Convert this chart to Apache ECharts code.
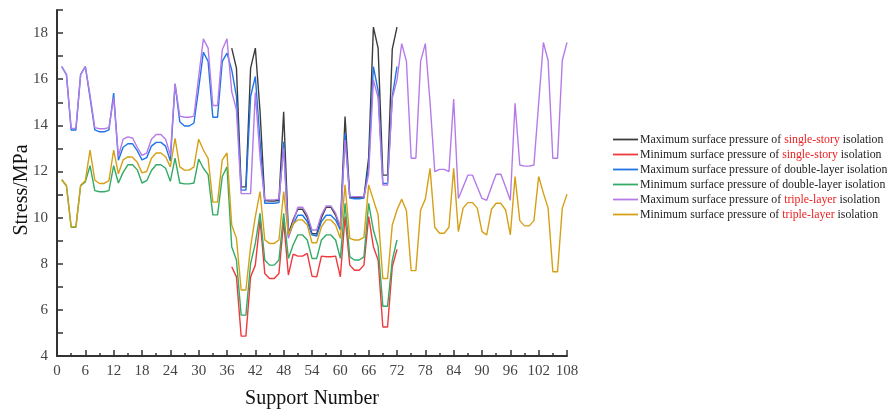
<!DOCTYPE html>
<html>
<head>
<meta charset="utf-8">
<script src="https://cdn.jsdelivr.net/npm/echarts@6/dist/echarts.min.js"></script>
<style>
  html, body { margin: 0; padding: 0; background: #fff; }
  #chart { width: 890px; height: 410px; }
</style>
</head>
<body>
<div id="chart"></div>
<script>
// Support numbers at which each group of series starts
const singleStart = 37;
const doubleStart = 1;
const tripleStart = 1;

// Single-story isolation, supports 37-72 (MPa)
const singleMax = [17.35, 16.48, 11.33, 11.33, 16.48, 17.35, 14.6, 10.74, 10.72, 10.72, 10.74, 14.59,
  9.3, 9.9, 10.36, 10.36, 10.0, 9.3, 9.3, 10.0, 10.45, 10.45, 10.1, 9.55,
  14.38, 10.88, 10.86, 10.86, 10.88, 12.6, 18.26, 17.35, 11.84, 11.84, 17.3, 18.26];
const singleMin = [7.87, 7.43, 4.86, 4.86, 7.43, 7.94, 9.9, 7.58, 7.36, 7.36, 7.58, 9.83,
  7.51, 8.42, 8.33, 8.33, 8.45, 7.46, 7.43, 8.33, 8.3, 8.3, 8.33, 7.43,
  10.04, 7.94, 7.72, 7.72, 7.94, 10.04, 8.74, 8.16, 5.26, 5.26, 7.87, 8.62];

// Double-layer isolation, supports 1-72 (MPa)
const doubleMax = [16.55, 16.2, 13.8, 13.8, 16.2, 16.55, 15.2, 13.8, 13.72, 13.72, 13.8, 15.4,
  12.49, 13.05, 13.2, 13.2, 12.9, 12.5, 12.6, 13.1, 13.26, 13.26, 13.1, 12.45,
  15.8, 14.16, 13.97, 13.97, 14.1, 15.6, 17.17, 16.77, 14.35, 14.35, 16.77, 17.13,
  16.4, 15.25, 11.19, 11.19, 15.25, 16.12, 13.3, 10.62, 10.62, 10.62, 10.65, 13.29,
  9.17, 9.7, 10.1, 10.1, 9.83, 9.25, 9.2, 9.83, 10.1, 10.1, 9.9, 9.46,
  13.65, 10.85, 10.82, 10.82, 10.85, 12.2, 16.55, 15.5, 11.48, 11.48, 15.25, 16.55];
const doubleMin = [11.64, 11.38, 9.58, 9.58, 11.38, 11.55, 12.25, 11.17, 11.12, 11.12, 11.17, 12.25,
  11.5, 11.96, 12.29, 12.29, 12.07, 11.5, 11.6, 12.04, 12.29, 12.29, 12.14, 11.57,
  12.58, 11.5, 11.46, 11.46, 11.5, 12.54, 12.14, 11.86, 10.12, 10.12, 11.78, 12.2,
  8.74, 8.16, 5.77, 5.77, 8.01, 8.88, 10.19, 8.16, 7.94, 7.94, 8.16, 10.19,
  8.23, 8.81, 9.25, 9.25, 9.03, 8.23, 8.23, 9.03, 9.25, 9.25, 9.03, 8.23,
  10.62, 8.3, 8.16, 8.16, 8.3, 10.62, 9.46, 8.74, 6.16, 6.16, 8.16, 9.03];

// Triple-layer isolation, supports 1-108 (MPa)
const tripleMax = [16.55, 16.2, 13.87, 13.87, 16.2, 16.55, 15.3, 13.9, 13.85, 13.85, 13.9, 15.2,
  12.65, 13.4, 13.5, 13.45, 13.05, 12.7, 12.8, 13.4, 13.6, 13.6, 13.4, 12.7,
  15.8, 14.4, 14.35, 14.35, 14.4, 16.1, 17.75, 17.35, 14.86, 14.86, 17.28, 17.75,
  15.46, 14.67, 11.04, 11.04, 11.04, 15.42, 12.6, 10.77, 10.77, 10.77, 10.8, 13.0,
  9.1, 9.8, 10.45, 10.45, 10.12, 9.46, 9.46, 10.12, 10.51, 10.51, 10.19, 9.6,
  13.36, 10.91, 10.91, 10.91, 10.9, 11.9, 15.97, 15.2, 11.41, 11.41, 15.17, 15.97,
  17.54, 16.77, 12.57, 12.57, 16.77, 17.54, 15.0, 11.99, 12.09, 12.09, 11.99, 15.14,
  10.83, 11.33, 11.84, 11.84, 11.33, 10.83, 10.75, 11.33, 11.88, 11.88, 11.33, 10.75,
  14.96, 12.28, 12.23, 12.23, 12.28, 14.96, 17.59, 16.81, 12.57, 12.57, 16.81, 17.59];
const tripleMin = [11.64, 11.38, 9.6, 9.6, 11.4, 11.6, 12.93, 11.62, 11.48, 11.48, 11.6, 12.93,
  11.9, 12.5, 12.64, 12.62, 12.4, 11.94, 12.0, 12.57, 12.8, 12.8, 12.64, 12.2,
  13.43, 12.2, 12.06, 12.06, 12.2, 13.4, 12.93, 12.57, 10.67, 10.67, 12.5, 12.8,
  9.68, 9.1, 6.86, 6.86, 8.74, 10.04, 11.13, 9.03, 8.88, 8.88, 9.03, 11.13,
  9.25, 9.72, 9.9, 9.9, 9.68, 8.91, 8.91, 9.6, 9.9, 9.9, 9.68, 9.1,
  11.42, 9.1, 9.03, 9.03, 9.14, 11.42, 10.77, 10.12, 7.36, 7.36, 9.68, 10.33,
  10.8, 10.3, 7.7, 7.7, 10.33, 10.8, 12.14, 9.58, 9.32, 9.32, 9.58, 12.14,
  9.39, 10.41, 10.65, 10.65, 10.41, 9.39, 9.25, 10.36, 10.62, 10.62, 10.33, 9.25,
  11.78, 9.87, 9.64, 9.64, 9.87, 11.78, 11.06, 10.41, 7.65, 7.65, 10.41, 11.01];

// Legend wording; the isolation scheme inside each name is shown in red for these
const seriesNames = [
  'Maximum surface pressure of single-story isolation',
  'Minimum surface pressure of single-story isolation',
  'Maximum surface pressure of double-layer isolation',
  'Minimum surface pressure of double-layer isolation',
  'Maximum surface pressure of triple-layer isolation',
  'Minimum surface pressure of triple-layer isolation'
];
const highlighted = ['single-story', 'triple-layer'];

const colors = ['#3c3c3c', '#f0393c', '#1f74e6', '#33aa66', '#b57be8', '#d6a016'];
const FONT = '"Liberation Serif", "Times New Roman", serif';

function pairs(values, start) {
  return values.map((v, i) => [start + i, v]);
}

const seriesData = [
  pairs(singleMax, singleStart),
  pairs(singleMin, singleStart),
  pairs(doubleMax, doubleStart),
  pairs(doubleMin, doubleStart),
  pairs(tripleMax, tripleStart),
  pairs(tripleMin, tripleStart)
];

const chart = echarts.init(document.getElementById('chart'), null, { renderer: 'canvas' });

chart.setOption({
  animation: false,
  backgroundColor: '#ffffff',
  color: colors,
  grid: { left: 57, right: 323, top: 10, bottom: 54, containLabel: false, outerBoundsMode: 'none' },
  legend: {
    orient: 'vertical',
    left: 608,
    top: 128,
    itemWidth: 25,
    itemHeight: 10,
    itemGap: 2,
    icon: 'path://M0,4 L28,4 L28,6 L0,6 Z',
    data: seriesNames,
    textStyle: {
      fontFamily: FONT,
      fontSize: 11.8,
      color: '#222',
      lineHeight: 13,
      padding: [0, 0, 0, -3],
      rich: {
        a: { fontFamily: FONT, fontSize: 11.8, color: '#222', lineHeight: 13 },
        r: { fontFamily: FONT, fontSize: 11.8, color: '#ee2222', lineHeight: 13 }
      }
    },
    formatter: function (name) {
      for (const h of highlighted) {
        const k = name.indexOf(h);
        if (k >= 0) {
          return '{a|' + name.slice(0, k) + '}{r|' + h + '}{a|' + name.slice(k + h.length) + '}';
        }
      }
      return '{a|' + name + '}';
    }
  },
  xAxis: {
    type: 'value',
    min: 0,
    max: 108,
    interval: 6,
    name: 'Support Number',
    nameLocation: 'middle',
    nameGap: 33,
    nameMoveOverlap: false,
    nameTextStyle: { fontFamily: FONT, fontSize: 20, color: '#111' },
    axisLine: { show: true, onZero: false, lineStyle: { color: '#333', width: 2 } },
    axisTick: { show: true, inside: true, length: 6, lineStyle: { color: '#333', width: 1.5 } },
    minorTick: { show: true, splitNumber: 2, length: 3, lineStyle: { color: '#333', width: 1.5 } },
    axisLabel: { fontFamily: FONT, fontSize: 15, color: '#444', margin: 8 },
    splitLine: { show: false }
  },
  yAxis: {
    type: 'value',
    min: 4,
    max: 19,
    interval: 1,
    name: 'Stress/MPa',
    nameLocation: 'middle',
    nameGap: 25,
    nameMoveOverlap: false,
    nameRotate: 90,
    nameTextStyle: { fontFamily: FONT, fontSize: 20, color: '#111', padding: [0, 14, 0, 0] },
    axisLine: { show: true, onZero: false, lineStyle: { color: '#333', width: 2 } },
    axisTick: { show: true, inside: true, length: 6, lineStyle: { color: '#333', width: 1.5 } },
    axisLabel: {
      fontFamily: FONT, fontSize: 15, color: '#444', margin: 9,
      formatter: v => (v % 2 === 0 ? String(v) : '')
    },
    splitLine: { show: false }
  },
  series: seriesNames.map((name, i) => ({
    name: name,
    type: 'line',
    data: seriesData[i],
    symbol: 'none',
    lineStyle: { width: 1.4, color: colors[i] },
    itemStyle: { color: colors[i] },
    z: 2 + i
  }))
});
</script>
</body>
</html>
